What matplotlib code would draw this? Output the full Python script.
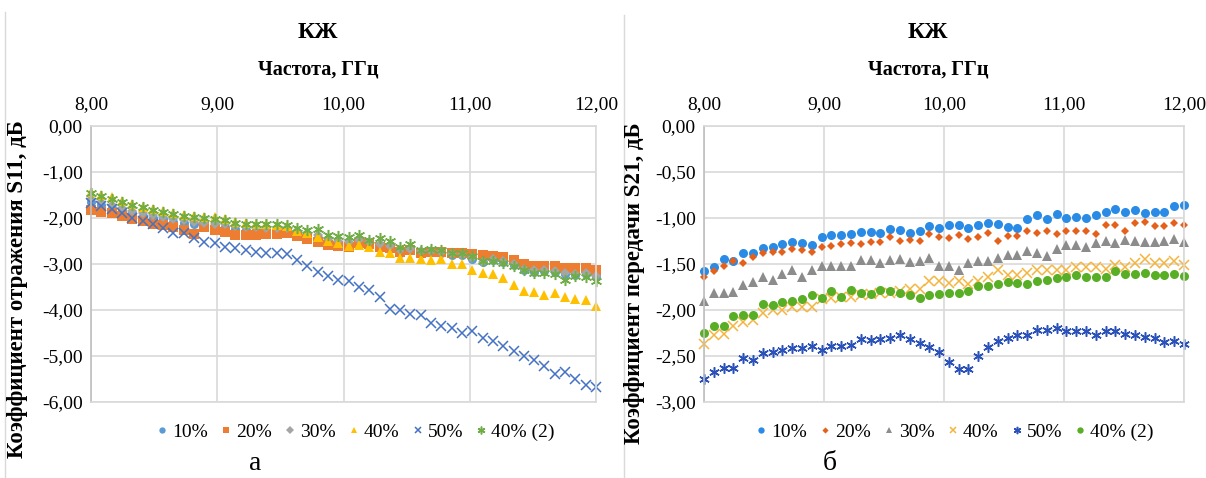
import numpy as np
import matplotlib
matplotlib.use('Agg')
import matplotlib.pyplot as plt
from matplotlib.ticker import FuncFormatter, MultipleLocator
from matplotlib.lines import Line2D

plt.rcParams['font.family'] = ['Liberation Serif', 'DejaVu Serif']

# ---------------- data ----------------
freq = np.linspace(8.0, 12.0, 50)  # frequency sweep, GHz
series_labels = ['10%', '20%', '30%', '40%', '50%', '40% (2)']

# S11 (left chart)
s11_10 = [-1.65, -1.72, -1.78, -1.84, -1.90, -1.95, -1.99, -2.03, -2.08, -2.10,
          -2.13, -2.14, -2.16, -2.19, -2.23, -2.25, -2.25, -2.25, -2.25, -2.26,
          -2.33, -2.38, -2.44, -2.52, -2.57, -2.58, -2.52, -2.55, -2.58, -2.62,
          -2.75, -2.70, -2.74, -2.74, -2.77, -2.80, -2.81, -2.90, -2.96, -2.92,
          -2.95, -3.02, -3.13, -3.17, -3.16, -3.18, -3.22, -3.23, -3.22, -3.26]
s11_20 = [-1.83, -1.86, -1.90, -1.95, -2.02, -2.06, -2.13, -2.15, -2.19, -2.25,
          -2.34, -2.20, -2.26, -2.30, -2.37, -2.37, -2.37, -2.35, -2.34, -2.32,
          -2.39, -2.45, -2.52, -2.59, -2.61, -2.63, -2.55, -2.56, -2.62, -2.65,
          -2.73, -2.69, -2.75, -2.73, -2.73, -2.75, -2.76, -2.78, -2.80, -2.83,
          -2.85, -2.91, -3.01, -3.05, -3.05, -3.05, -3.09, -3.09, -3.09, -3.14]
s11_30 = [-1.58, -1.65, -1.71, -1.78, -1.84, -1.89, -1.94, -1.98, -2.02, -2.05,
          -2.08, -2.10, -2.12, -2.14, -2.18, -2.20, -2.20, -2.21, -2.21, -2.22,
          -2.28, -2.32, -2.38, -2.46, -2.50, -2.52, -2.48, -2.53, -2.56, -2.60,
          -2.70, -2.67, -2.71, -2.71, -2.74, -2.78, -2.80, -2.88, -2.96, -2.90,
          -2.94, -3.00, -3.10, -3.14, -3.13, -3.16, -3.20, -3.21, -3.20, -3.25]
s11_40 = [-1.43, -1.50, -1.55, -1.63, -1.70, -1.75, -1.80, -1.85, -1.90, -1.93,
          -1.96, -1.98, -1.98, -2.02, -2.08, -2.10, -2.12, -2.14, -2.15, -2.18,
          -2.28, -2.33, -2.42, -2.50, -2.55, -2.60, -2.58, -2.62, -2.73, -2.75,
          -2.86, -2.87, -2.89, -2.92, -2.89, -3.00, -3.00, -3.14, -3.19, -3.22,
          -3.30, -3.46, -3.58, -3.61, -3.68, -3.63, -3.71, -3.77, -3.79, -3.91]
s11_50 = [-1.67, -1.74, -1.81, -1.90, -1.99, -2.07, -2.13, -2.22, -2.33, -2.33,
          -2.44, -2.52, -2.55, -2.64, -2.66, -2.70, -2.74, -2.77, -2.77, -2.79,
          -2.92, -3.05, -3.18, -3.26, -3.34, -3.37, -3.49, -3.56, -3.72, -3.98,
          -4.00, -4.09, -4.11, -4.29, -4.35, -4.40, -4.49, -4.45, -4.61, -4.67,
          -4.79, -4.90, -5.00, -5.08, -5.21, -5.40, -5.35, -5.49, -5.62, -5.67]
s11_40b = [-1.45, -1.52, -1.58, -1.65, -1.72, -1.77, -1.83, -1.87, -1.92, -1.95,
           -1.98, -2.00, -2.02, -2.05, -2.10, -2.12, -2.13, -2.14, -2.13, -2.15,
           -2.22, -2.25, -2.24, -2.38, -2.40, -2.42, -2.37, -2.48, -2.44, -2.51,
           -2.62, -2.56, -2.69, -2.68, -2.69, -2.76, -2.76, -2.83, -2.94, -2.94,
           -2.98, -3.05, -3.12, -3.19, -3.19, -3.21, -3.34, -3.27, -3.28, -3.37]

# S21 (right chart)
s21_10 = [-1.58, -1.53, -1.45, -1.47, -1.38, -1.38, -1.33, -1.32, -1.28, -1.26,
          -1.27, -1.29, -1.21, -1.19, -1.18, -1.17, -1.15, -1.15, -1.16, -1.12,
          -1.13, -1.16, -1.14, -1.09, -1.11, -1.08, -1.08, -1.11, -1.08, -1.05,
          -1.06, -1.10, -1.11, -1.01, -0.97, -1.01, -0.96, -1.00, -0.99, -1.00,
          -0.97, -0.93, -0.90, -0.94, -0.91, -0.95, -0.93, -0.93, -0.87, -0.86]
s21_20 = [-1.64, -1.58, -1.52, -1.47, -1.49, -1.42, -1.38, -1.37, -1.37, -1.34,
          -1.35, -1.37, -1.31, -1.30, -1.28, -1.27, -1.28, -1.26, -1.26, -1.21,
          -1.25, -1.24, -1.25, -1.17, -1.21, -1.22, -1.18, -1.23, -1.21, -1.16,
          -1.25, -1.20, -1.20, -1.14, -1.16, -1.14, -1.17, -1.14, -1.14, -1.14,
          -1.17, -1.08, -1.08, -1.14, -1.05, -1.04, -1.09, -1.09, -1.05, -1.08]
s21_30 = [-1.90, -1.82, -1.82, -1.80, -1.73, -1.70, -1.64, -1.67, -1.61, -1.57,
          -1.64, -1.57, -1.52, -1.52, -1.52, -1.52, -1.46, -1.46, -1.49, -1.46,
          -1.45, -1.48, -1.47, -1.44, -1.52, -1.52, -1.56, -1.49, -1.47, -1.47,
          -1.43, -1.40, -1.40, -1.36, -1.38, -1.41, -1.34, -1.29, -1.29, -1.31,
          -1.27, -1.25, -1.27, -1.24, -1.25, -1.26, -1.26, -1.25, -1.23, -1.26]
s21_40 = [-2.37, -2.27, -2.26, -2.17, -2.13, -2.11, -2.03, -2.00, -2.00, -1.97,
          -1.97, -1.97, -1.88, -1.87, -1.86, -1.86, -1.84, -1.83, -1.82, -1.81,
          -1.79, -1.77, -1.77, -1.69, -1.69, -1.71, -1.68, -1.72, -1.68, -1.64,
          -1.57, -1.62, -1.62, -1.60, -1.56, -1.56, -1.57, -1.56, -1.53, -1.53,
          -1.53, -1.55, -1.51, -1.53, -1.49, -1.45, -1.49, -1.49, -1.47, -1.51]
s21_50 = [-2.75, -2.67, -2.63, -2.63, -2.52, -2.54, -2.47, -2.46, -2.43, -2.41,
          -2.41, -2.39, -2.44, -2.39, -2.39, -2.38, -2.32, -2.33, -2.31, -2.30,
          -2.27, -2.32, -2.36, -2.40, -2.46, -2.57, -2.64, -2.64, -2.50, -2.40,
          -2.34, -2.30, -2.27, -2.27, -2.22, -2.22, -2.20, -2.23, -2.23, -2.23,
          -2.27, -2.23, -2.23, -2.26, -2.27, -2.29, -2.30, -2.35, -2.34, -2.37]
s21_40b = [-2.25, -2.17, -2.17, -2.07, -2.05, -2.05, -1.93, -1.95, -1.91, -1.90,
           -1.88, -1.84, -1.87, -1.79, -1.86, -1.78, -1.81, -1.83, -1.78, -1.79,
           -1.82, -1.84, -1.87, -1.84, -1.83, -1.81, -1.82, -1.79, -1.74, -1.74,
           -1.72, -1.70, -1.71, -1.72, -1.68, -1.67, -1.65, -1.64, -1.62, -1.64,
           -1.64, -1.64, -1.58, -1.61, -1.61, -1.60, -1.62, -1.62, -1.61, -1.63]

left_series = [s11_10, s11_20, s11_30, s11_40, s11_50, s11_40b]
right_series = [s21_10, s21_20, s21_30, s21_40, s21_50, s21_40b]

STAR = (6, 2, 0)
left_styles = [
    dict(marker='o', color='#5B9BD5', ms=6.5, mew=0),
    dict(marker='s', color='#ED7D31', ms=6.5, mew=0),
    dict(marker='D', color='#A5A5A5', ms=5.5, mew=0),
    dict(marker='^', color='#FFC000', ms=7.0, mew=0),
    dict(marker='x', color='#4472C4', ms=6.5, mew=1.1),
    dict(marker=STAR, color='#70AD47', ms=8.0, mew=1.1),
]
right_styles = [
    dict(marker='o', color='#2A8BE6', ms=6.5, mew=0),
    dict(marker='D', color='#E5601A', ms=4.5, mew=0),
    dict(marker='^', color='#8C8C8C', ms=6.5, mew=0),
    dict(marker='x', color='#F3B53F', ms=6.5, mew=1.1),
    dict(marker=STAR, color='#2A52B8', ms=7.5, mew=1.1),
    dict(marker='o', color='#58AE24', ms=6.5, mew=0),
]

W, H = 1206, 478
fig = plt.figure(figsize=(W / 100, H / 100), dpi=100)
fig.patch.set_facecolor('white')


def rect(l, t, r, b):
    return [l / W, 1 - b / H, (r - l) / W, (b - t) / H]


comma = FuncFormatter(lambda v, p: f'{v:.2f}'.replace('.', ','))
GRID = '#D9D9D9'


def setup(ax, ymin, ystep):
    ax.set_xlim(8, 12)
    ax.set_ylim(ymin, 0)
    ax.xaxis.set_major_locator(MultipleLocator(1))
    ax.yaxis.set_major_locator(MultipleLocator(ystep))
    ax.xaxis.set_major_formatter(comma)
    ax.yaxis.set_major_formatter(comma)
    ax.xaxis.tick_top()
    ax.tick_params(axis='both', length=0, labelsize=14, pad=6)
    ax.tick_params(axis='x', pad=9)
    ax.grid(True, color=GRID, linewidth=1.2)
    ax.set_axisbelow(True)
    for s in ax.spines.values():
        s.set_color(GRID)
        s.set_linewidth(1.2)
    ax.spines['left'].set_color('#BFBFBF')


def draw(ax, series, styles):
    for vals, lab, st in zip(series, series_labels, styles):
        ax.plot(freq, vals, linestyle='none', label=lab, clip_on=False,
                marker=st['marker'], color=st['color'], ms=st['ms'], mew=st['mew'])


# left chart
axL = fig.add_axes(rect(91, 126, 596, 402))
draw(axL, left_series, left_styles)
setup(axL, -6, 1)

# right chart
axR = fig.add_axes(rect(704, 126, 1184, 402))
draw(axR, right_series, right_styles)
setup(axR, -3, 0.5)

# titles and axis titles
for cx in (318, 928):
    fig.text(cx / W, 1 - 32 / H, 'КЖ', ha='center', va='center',
             fontsize=17, fontweight='bold')
    fig.text(cx / W, 1 - 70 / H, 'Частота, ГГц', ha='center', va='center',
             fontsize=14.5, fontweight='bold')

fig.text(18 / W, 1 - 120 / H, 'Коэффициент отражения S11, дБ', rotation=90,
         ha='center', va='top', fontsize=16.5, fontweight='bold')
fig.text(634 / W, 1 - 122 / H, 'Коэффициент передачи S21, дБ', rotation=90,
         ha='center', va='top', fontsize=16.5, fontweight='bold')

# legends
legkw = dict(loc='center', bbox_transform=fig.transFigure, ncol=6, frameon=False,
             fontsize=14, handlelength=0.5, handletextpad=0.25,
             columnspacing=0.7, markerscale=0.7, borderaxespad=0)
axL.legend(bbox_to_anchor=(356 / W, 1 - 432 / H), **legkw)
axR.legend(bbox_to_anchor=(955 / W, 1 - 432 / H), **legkw)

# sub-captions
fig.text(255 / W, 1 - 464 / H, 'а', ha='center', va='center', fontsize=20)
fig.text(830 / W, 1 - 464 / H, 'б', ha='center', va='center', fontsize=20)

# chart frame borders
fig.add_artist(Line2D([5 / W, 5 / W], [0, 1 - 12 / H], color=GRID, lw=1))
fig.add_artist(Line2D([624 / W, 624 / W], [0, 1 - 15 / H], color=GRID, lw=1))

fig.savefig('out.png', dpi=100, facecolor='white')
